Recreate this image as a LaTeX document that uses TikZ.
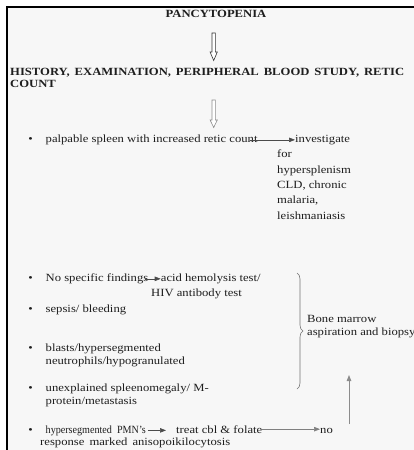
\documentclass[tikz,border=0pt]{standalone}
\usepackage{fontspec}
\usepackage{graphicx}
\setmainfont[FakeStretch=1.15]{Liberation Serif}
\usetikzlibrary{positioning,arrows.meta,decorations.pathreplacing}
\definecolor{panel}{HTML}{F7F7F7}
\definecolor{ink}{HTML}{1E1E1E}
\tikzset{
  txt/.style={anchor=base west, inner sep=0pt, font=\fontsize{11}{13}\selectfont, text=ink},
  hd/.style={txt, font=\fontsize{11}{13}\selectfont\bfseries},
  bul/.style={anchor=base, inner sep=0pt, font=\fontsize{11}{13}\selectfont, text=ink},
  ln/.style={draw=ink!80, line width=0.6pt, -{Triangle[length=6pt,width=4.5pt]}},
  gln/.style={ln, draw=black!45, line width=0.9pt},
  hollow/.style={draw=black!80, line width=0.6pt, fill=white},
  brc/.style={draw=black!55, line width=0.6pt, decorate, decoration={brace, amplitude=6pt}}
}
\begin{document}
\begin{tikzpicture}[x=1pt,y=-1pt]
  \useasboundingbox (0,0) rectangle (414,450);
  % frame
  \fill[panel] (7,7) rectangle (420,456);
  \draw[line width=2.4pt] (7,456) -- (7,7) -- (420,7);

  \node[hd, anchor=base] (pan) at (216,17) {PANCYTOPENIA};
  \draw[hollow] (212,33) -- (215.4,33) -- (215.4,52) -- (217.3,52) -- (213.7,60.5)
    -- (210.1,52) -- (212,52) -- cycle;
  \node[hd] (hist) at (10,75.5) {\makebox[394pt][s]{HISTORY, EXAMINATION, PERIPHERAL BLOOD STUDY, RETIC}};
  \node[hd] (cnt) at (10,87) {COUNT};
  \draw[hollow, draw=black!45] (212,100) -- (215.4,100) -- (215.4,120) -- (217.3,120) -- (213.7,127.5)
    -- (210.1,120) -- (212,120) -- cycle;

  % spleen
  \node[bul] (b1) at (30.5,142.5) {•};
  \node[txt] (palp) at (45.5,142.5) {palpable spleen with increased retic count};
  \node[txt] (inv) at (295,142.5) {investigate};
  \node[txt] (for) at (277,157.8) {for};
  \node[txt] (hyps) at (277,173.1) {hypersplenism};
  \node[txt] (cld) at (277,188.4) {CLD, chronic};
  \node[txt] (mal) at (277,203.7) {malaria,};
  \node[txt] (leish) at (277,219) {leishmaniasis};
  \draw[ln] ([xshift=-8pt]palp.east) -- (palp.east -| inv.west);

  % marrow group
  \node[bul] (b2) at (30.5,281.5) {•};
  \node[txt] (nsf) at (45.5,281.5) {No specific findings};
  \node[txt] (acid) at (160.7,281.5) {acid hemolysis test/};
  \node[txt] (hiv) at (151,296.5) {HIV antibody test};
  \draw[ln] ([xshift=-3pt]nsf.east) -- (nsf.east -| acid.west);

  \node[bul] (b3) at (30.5,312.5) {•};
  \node[txt] (sep) at (45.5,312.5) {sepsis/ bleeding};

  \node[bul] (b4) at (30.5,351.5) {•};
  \node[txt] (bla) at (45.5,351.5) {blasts/hypersegmented};
  \node[txt] (neu) at (45.5,364.5) {neutrophils/hypogranulated};

  \node[bul] (b5) at (30.5,391) {•};
  \node[txt] (unx) at (45.5,391) {unexplained spleenomegaly/ M-};
  \node[txt] (prot) at (45.5,404) {protein/metastasis};

  \coordinate (brt) at (297,273);
  \coordinate (brb) at (297,389);
  \draw[brc] (brt) -- (brb);
  \node[txt] (bm1) at (307,322.5) {Bone marrow};
  \node[txt] (bm2) at (307,335) {aspiration and biopsy};

  % no response
  \node[bul] (b6) at (30.5,433) {•};
  \node[txt] (pmn) at (45.5,433) {\scalebox{0.8}[1]{hypersegmented\ \ PMN's}};
  \node[txt] (treat) at (176,433) {treat\ cbl\ \&\ folate};
  \node[txt] (no) at (320,433) {no};
  \node[txt] (resp) at (40,445.5) {\makebox[190pt][s]{response marked anisopoikilocytosis}};
  \draw[ln] ([xshift=2pt]pmn.east) -- ([xshift=-10pt]treat.west |- pmn.east);
  \draw[ln, draw=black!50] (treat.east) -- (treat.east -| no.west);

  \coordinate (vbot) at (349,424);
  \coordinate (vtop) at (349,375);
  \draw[gln] (vbot) -- (vtop);
\end{tikzpicture}
\end{document}
